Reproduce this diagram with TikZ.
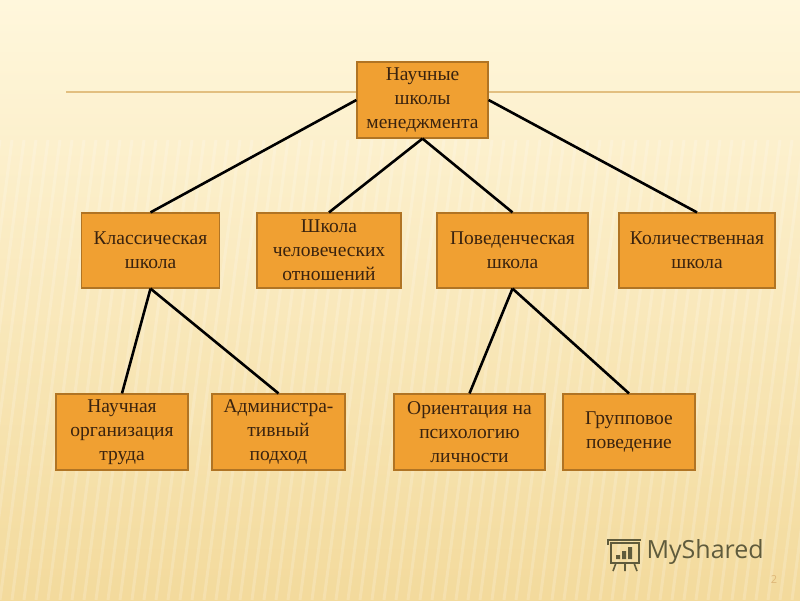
\documentclass[tikz,border=0pt]{standalone}
\usepackage{fontspec}
\setmainfont{Liberation Serif}
\setsansfont{Open Sans}
\usetikzlibrary{positioning}

\definecolor{boxfill}{HTML}{F0A032}
\definecolor{boxedge}{HTML}{B07424}
\definecolor{boxtext}{HTML}{3A230F}
\definecolor{bgtop}{HTML}{FFF7DC}
\definecolor{bgbottom}{HTML}{F3DA9C}
\definecolor{ruleline}{HTML}{E2BF80}
\definecolor{logo}{HTML}{5F5B3C}

\tikzset{
  school/.style={draw=boxedge, line width=1.2pt, fill=boxfill, text=boxtext,
    align=center, inner sep=1pt,
    font=\fontsize{19.5}{24}\selectfont},
  link/.style={line width=2.6pt, black}
}

\begin{document}
\begin{tikzpicture}[x=1pt, y=-1pt]

    % background
    \useasboundingbox (0,0) rectangle (800,600);
    \begin{scope}
        \clip (0,0) rectangle (800,600);
        \shade[top color=bgtop, bottom color=bgbottom] (0,0) rectangle (800,600);
        \foreach \s in {0,12,...,900}
            \draw[white, opacity=0.18, line width=3pt] (\s,140) -- (\s-60,600);
    \end{scope}
    \draw[ruleline, line width=1.2pt] (66,92) -- (800,92);

    \node (top) [school, minimum width=131pt, minimum height=76pt] at (422.5,100) {Научные\\школы\\менеджмента};

    \node (klass) [school, minimum width=138pt, minimum height=75pt] at (150.5,250.5) {Классическая\\школа};
    \node (chel) [school, minimum width=144pt, minimum height=75pt] at (329,250.5) {Школа\\человеческих\\отношений};
    \node (pov) [school, minimum width=151pt, minimum height=75pt] at (512.5,250.5) {Поведенческая\\школа};
    \node (kol) [school, minimum width=156pt, minimum height=75pt] at (697,250.5) {Количественная\\школа};

    \node (nauch) [school, minimum width=132pt, minimum height=76pt] at (122,432) {Научная\\организация\\труда};
    \node (admin) [school, minimum width=133pt, minimum height=76pt] at (278.5,432) {Администра-\\тивный\\подход};
    \node (orient) [school, minimum width=151pt, minimum height=76pt] at (469.5,432) {Ориентация на\\психологию\\личности};
    \node (grupp) [school, minimum width=132pt, minimum height=76pt] at (629,432) {Групповое\\поведение};

    \path[link] (top.west) edge (klass.north);
    \path[link] (top.south) edge (chel.north) edge (pov.north);
    \path[link] (top.east) edge (kol.north);
    \path[link] (klass.south) edge (nauch.north) edge (admin.north);
    \path[link] (pov.south) edge (orient.north) edge (grupp.north);

    % watermark and page number
    \node (brand) [text=logo, font=\sffamily\fontsize{25}{25}\selectfont, anchor=west] at (643,552) {MyShared};
    \draw[logo, line width=2pt] (611,543) rectangle (639,563);
    \draw[logo, line width=1.6pt] (608,545) -- (608,540) -- (641,540);
    \draw[logo, line width=1.6pt] (616,563) -- (613,571) (625,563) -- (625,571) (634,563) -- (637,571);
    \fill[logo] (616,555) rectangle (620,559) (622,551) rectangle (626,559) (628,547) rectangle (632,559);
    \node (page) [text=bgbottom!60!brown, font=\sffamily\fontsize{11}{11}\selectfont] at (774,580) {2};

\end{tikzpicture}
\end{document}
